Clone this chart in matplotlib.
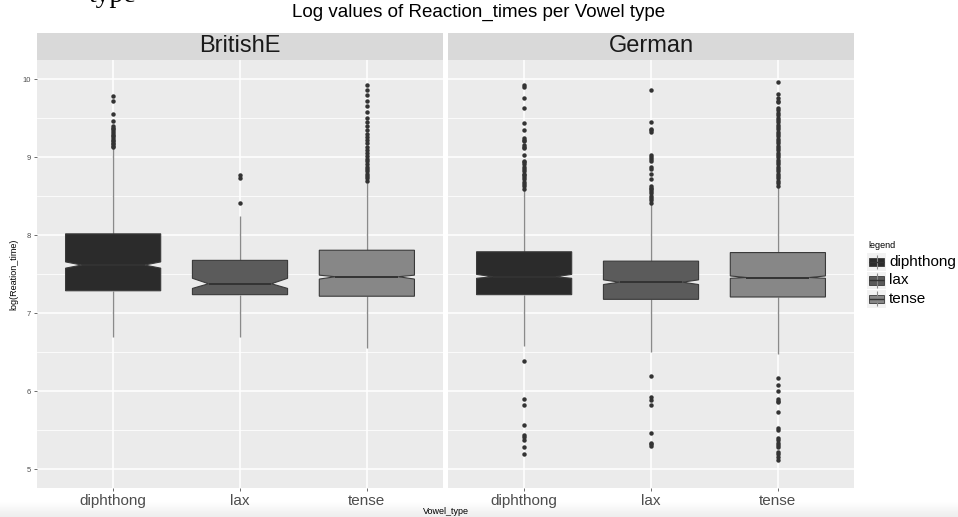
import matplotlib.pyplot as plt
import numpy as np
from matplotlib.patches import Rectangle

plt.rcParams['font.family'] = ['Liberation Sans', 'DejaVu Sans']

# data
vowels = ['diphthong', 'lax', 'tense']
languages = ['BritishE', 'German']
fills = ['#2b2b2b', '#5b5b5b', '#878787']

british_q1 = [7.29, 7.24, 7.22]
british_med = [7.62, 7.38, 7.47]
british_q3 = [8.02, 7.68, 7.81]
british_whislo = [6.70, 6.70, 6.56]
british_whishi = [9.12, 8.25, 8.67]
british_cilo = [7.58, 7.32, 7.44]
british_cihi = [7.66, 7.45, 7.49]
british_fliers = [
    [9.79, 9.72, 9.56, 9.47, 9.40, 9.38, 9.36, 9.34, 9.31, 9.29, 9.27,
     9.25, 9.23, 9.21, 9.19, 9.17, 9.15, 9.14],
    [8.77, 8.74, 8.42],
    [9.93, 9.87, 9.80, 9.72, 9.66, 9.58, 9.50, 9.45, 9.40, 9.35, 9.30,
     9.26, 9.22, 9.18, 9.14, 9.10, 9.06, 9.02, 8.98, 8.95, 8.92, 8.88,
     8.85, 8.82, 8.79, 8.76, 8.73, 8.70],
]

german_q1 = [7.24, 7.18, 7.21]
german_med = [7.47, 7.40, 7.46]
german_q3 = [7.79, 7.67, 7.78]
german_whislo = [6.58, 6.50, 6.48]
german_whishi = [8.59, 8.40, 8.62]
german_cilo = [7.45, 7.37, 7.45]
german_cihi = [7.50, 7.43, 7.48]
german_fliers = [
    [9.93, 9.90, 9.76, 9.64, 9.44, 9.35, 9.25, 9.23, 9.21, 9.16, 9.14,
     9.12, 9.03, 8.96, 8.94, 8.92, 8.88, 8.85, 8.82, 8.79, 8.77, 8.75,
     8.72, 8.69, 8.66, 8.63, 8.60,
     6.39, 5.90, 5.83, 5.57, 5.44, 5.41, 5.37, 5.28, 5.19],
    [9.86, 9.45, 9.37, 9.35, 9.33, 9.03, 9.01, 8.98, 8.96, 8.88, 8.85,
     8.79, 8.72, 8.63, 8.61, 8.59, 8.57, 8.54, 8.51, 8.48, 8.45, 8.42,
     6.20, 5.93, 5.89, 5.83, 5.47, 5.34, 5.32, 5.30],
    [9.97, 9.81, 9.76, 9.73, 9.71, 9.64, 9.61, 9.57, 9.54, 9.51, 9.48,
     9.45, 9.42, 9.39, 9.36, 9.33, 9.30, 9.27, 9.24, 9.21, 9.18, 9.15,
     9.12, 9.09, 9.06, 9.03, 9.00, 8.97, 8.94, 8.91, 8.88, 8.85, 8.82,
     8.79, 8.76, 8.73, 8.70, 8.67, 8.64,
     6.17, 6.08, 6.00, 5.90, 5.88, 5.86, 5.73, 5.53, 5.50, 5.40, 5.37,
     5.34, 5.31, 5.28, 5.22, 5.19, 5.16, 5.12],
]

panels = {
    'BritishE': (british_q1, british_med, british_q3, british_whislo,
                 british_whishi, british_cilo, british_cihi, british_fliers),
    'German': (german_q1, german_med, german_q3, german_whislo,
               german_whishi, german_cilo, german_cihi, german_fliers),
}

W, H = 958, 517
fig = plt.figure(figsize=(W / 100, H / 100), dpi=100)


def px_rect(x0, y0, x1, y1):
    return [x0 / W, 1 - y1 / H, (x1 - x0) / W, (y1 - y0) / H]


box_w = 0.75
notch_in = 0.17 * box_w
panel_px = {'BritishE': (37, 60, 443, 488), 'German': (448, 60, 854, 488)}

for lang in languages:
    x0, y0, x1, y1 = panel_px[lang]
    ax = fig.add_axes(px_rect(x0, y0, x1, y1))
    ax.set_facecolor('#EBEBEB')
    for s in ax.spines.values():
        s.set_visible(False)
    ax.set_xlim(0.4, 3.6)
    ax.set_ylim(4.76, 10.25)
    ax.set_axisbelow(True)

    pos = np.arange(1, len(vowels) + 1)
    ax.set_xticks(pos)
    ax.set_xticklabels(vowels, fontsize=11, color='#4D4D4D')
    ax.set_yticks([5, 6, 7, 8, 9, 10])
    ax.set_yticks([5.5, 6.5, 7.5, 8.5, 9.5], minor=True)
    ax.grid(which='major', color='white', lw=1.1)
    ax.grid(which='minor', axis='y', color='white', lw=0.55)
    ax.tick_params(axis='both', which='major', length=2.2, width=0.5,
                   color='#333333', pad=2)
    ax.tick_params(axis='y', which='minor', length=0)
    if lang == 'BritishE':
        ax.set_yticklabels(['5', '6', '7', '8', '9', '10'], fontsize=5.5,
                           color='#4D4D4D')
    else:
        ax.tick_params(axis='y', which='major', left=False, labelleft=False)

    q1, med, q3, wlo, whi, cilo, cihi, fliers = panels[lang]
    for i, p in enumerate(pos):
        ax.vlines(p, wlo[i], q1[i], color='#8a8a8a', lw=1.0, zorder=2)
        ax.vlines(p, q3[i], whi[i], color='#8a8a8a', lw=1.0, zorder=2)
        l, r = p - box_w / 2, p + box_w / 2
        bx = [l, r, r, r - notch_in, r, r, l, l, l + notch_in, l, l]
        by = [q1[i], q1[i], cilo[i], med[i], cihi[i], q3[i], q3[i],
              cihi[i], med[i], cilo[i], q1[i]]
        ax.fill(bx, by, facecolor=fills[i], edgecolor='#3a3a3a', lw=0.8,
                zorder=3)
        ax.hlines(med[i], l + notch_in, r - notch_in, color='#333333',
                  lw=1.4, zorder=4)
        ax.plot([p] * len(fliers[i]), fliers[i], 'o', color='#333333',
                ms=3.2, mew=0, zorder=4)

    strip_h = 27 / (y1 - y0)
    ax.add_patch(Rectangle((0, 1), 1, strip_h, transform=ax.transAxes,
                           facecolor='#D9D9D9', edgecolor='none',
                           clip_on=False))
    ax.text(0.5, 1 + strip_h / 2, lang, transform=ax.transAxes,
            ha='center', va='center', fontsize=17, color='#1A1A1A')

# titles and axis labels
fig.text(479 / W, 1 - 12 / H, 'Log values of Reaction_times per Vowel type',
         ha='center', va='center', fontsize=13.5)
fig.text(445.5 / W, 1 - 512 / H, 'Vowel_type', ha='center', va='center',
         fontsize=6.5)
fig.text(14 / W, 1 - 274 / H, 'log(Reation_time)', ha='center',
         va='center', rotation=90, fontsize=6.5)

# legend drawn by hand, ggplot style keys
lax = fig.add_axes(px_rect(867, 253, 886, 308))
lax.set_xlim(0, 1)
lax.set_ylim(3, 0)
lax.axis('off')
for i, name in enumerate(vowels):
    lax.add_patch(Rectangle((0, i + 0.02), 1, 0.96, facecolor='#F2F2F2',
                            edgecolor='none'))
    lax.vlines(0.5, i + 0.1, i + 0.9, color='#8a8a8a', lw=0.8)
    lax.add_patch(Rectangle((0.1, i + 0.27), 0.8, 0.46, facecolor=fills[i],
                            edgecolor='#3a3a3a', lw=0.6))
    lax.hlines(i + 0.5, 0.1, 0.9, color='#333333', lw=1.0)
    fig.text(889 / W, 1 - (262 + 18.5 * i) / H, name, ha='left',
             va='center', fontsize=11)
fig.text(868 / W, 1 - 245 / H, 'legend', ha='left', va='center',
         fontsize=6.5)

# clipped heading from the page above the chart
fig.text(89 / W, 1 - 2 / H, 'type', ha='left', va='baseline', fontsize=20,
         family=['Liberation Serif', 'DejaVu Serif'])

# faint fade at the bottom edge
gax = fig.add_axes([0, 0, 1, 16 / H], zorder=-1)
gax.imshow(np.linspace(1.0, 0.93, 16).reshape(-1, 1), aspect='auto',
           cmap='gray', vmin=0, vmax=1, extent=(0, 1, 0, 1))
gax.axis('off')

fig.savefig('out.png', dpi=100)
